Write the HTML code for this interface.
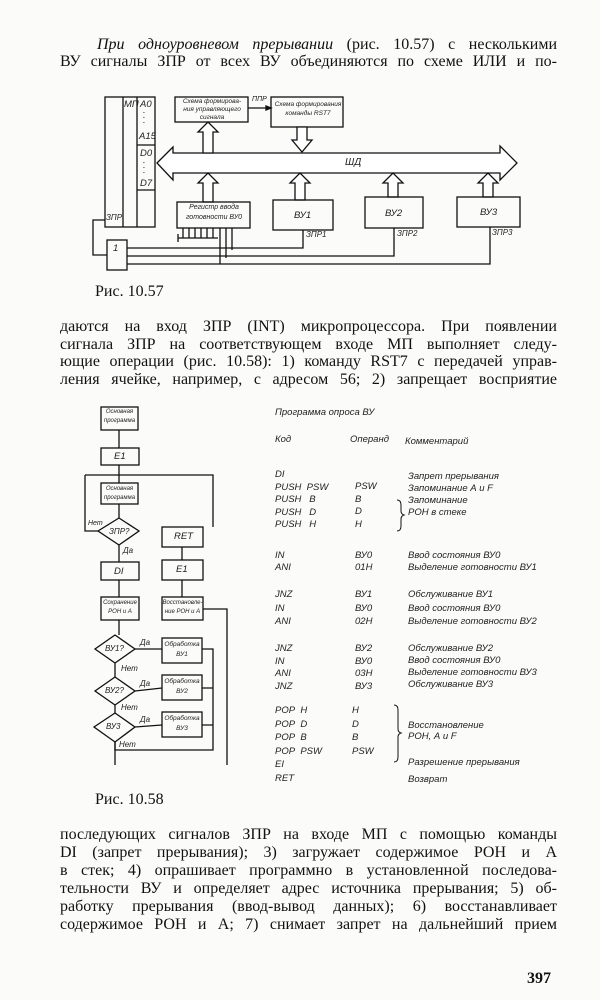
<!DOCTYPE html>
<html><head><meta charset="utf-8"><style>
body{margin:0;background:#fff;}
#p{position:relative;width:600px;height:1000px;overflow:hidden;background:#fbfbfa;font-family:"Liberation Serif",serif;color:#111;}
.l{position:absolute;left:60px;width:497px;font-size:16px;line-height:18px;text-align:justify;text-align-last:justify;white-space:nowrap;}
.t{position:absolute;font-family:"Liberation Sans",sans-serif;font-style:italic;font-size:9.5px;color:#222;white-space:nowrap;}
svg text{font-family:"Liberation Sans",sans-serif;font-style:italic;fill:#111;}
</style></head><body><div id="p">
<div class="l" style="top:36px;left:97px;width:460px"><i>При одноуровневом прерывании</i> (рис. 10.57) с несколькими</div>
<div class="l" style="top:53px">ВУ сигналы ЗПР от всех ВУ объединяются по схеме ИЛИ и по-</div>
<div class="l" style="top:283px;left:95px;width:auto;text-align:left;text-align-last:auto">Рис. 10.57</div>
<div class="l" style="top:318px">даются на вход ЗПР (INT) микропроцессора. При появлении</div>
<div class="l" style="top:336px">сигнала ЗПР на соответствующем входе МП выполняет следу-</div>
<div class="l" style="top:353px">ющие операции (рис. 10.58): 1) команду RST7 с передачей управ-</div>
<div class="l" style="top:371px">ления ячейке, например, с адресом 56; 2) запрещает восприятие</div>
<div class="l" style="top:791px;left:95px;width:auto;text-align:left;text-align-last:auto">Рис. 10.58</div>
<div class="l" style="top:826px">последующих сигналов ЗПР на входе МП с помощью команды</div>
<div class="l" style="top:844px">DI (запрет прерывания); 3) загружает содержимое РОН и А</div>
<div class="l" style="top:862px">в стек; 4) опрашивает программно в установленной последова-</div>
<div class="l" style="top:880px">тельности ВУ и определяет адрес источника прерывания; 5) об-</div>
<div class="l" style="top:898px">работку прерывания (ввод-вывод данных); 6) восстанавливает</div>
<div class="l" style="top:916px">содержимое РОН и А; 7) снимает запрет на дальнейший прием</div>
<div class="l" style="top:970px;left:527px;width:auto;font-weight:bold;text-align:left;text-align-last:auto">397</div>

<svg width="600" height="1000" style="position:absolute;left:0;top:0" fill="none" stroke="#111" stroke-width="1.3">
<rect x="105" y="97" width="50" height="130"/>
<line x1="123" y1="97" x2="123" y2="227"/><line x1="137" y1="97" x2="137" y2="227"/>
<line x1="137" y1="145" x2="155" y2="145"/><line x1="137" y1="190" x2="155" y2="190"/>
<rect x="175" y="97" width="73" height="25"/><rect x="271" y="97" width="72" height="30"/>
<line x1="248" y1="108" x2="271" y2="108"/><polygon points="271,108 266,106 266,110" fill="#111"/>
<polygon points="157,163 173,147 173,153 500,153 500,146 517,163 500,180 500,173 173,173 173,180" fill="#fff"/>
<polygon points="203,153 203,132 198,132 208,122 218,132 213,132 213,153" fill="#fff"/>
<polygon points="297,127 297,140 292,140 302,152 312,140 307,140 307,127" fill="#fff"/>
<g fill="#fff">
<polygon points="203,202 203,183 198,183 208,173 218,183 213,183 213,202"/>
<polygon points="295,200 295,183 290,183 300,173 310,183 305,183 305,200"/>
<polygon points="388,197 388,183 383,183 393,173 403,183 398,183 398,197"/>
<polygon points="483,197 483,183 478,183 488,173 498,183 493,183 493,197"/>
</g>
<rect x="177" y="202" width="73" height="26"/><rect x="273" y="200" width="60" height="30"/>
<rect x="365" y="197" width="58" height="31"/><rect x="457" y="197" width="63" height="30"/>
<rect x="107" y="240" width="20" height="30"/>
<path d="M107,255 H93 V220 H105"/>
<path d="M178,238 H218 M183,228 V238 M189,228 V238 M195,228 V238 M201,228 V238 M207,228 V238 M213,228 V238 M178,234 V242"/>
<path d="M220,228 V264 M226,228 V258 M232,228 V250"/>
<path d="M127,248 H303 V230"/><path d="M127,256 H394 V228"/><path d="M127,264 H490 V227"/>
<rect x="101" y="407" width="37" height="23"/><line x1="119" y1="430" x2="119" y2="448"/>
<rect x="101" y="448" width="38" height="17"/><line x1="119" y1="465" x2="119" y2="483"/>
<path d="M85,475 H213 V527"/><path d="M98,531 H85 V475"/>
<rect x="101" y="483" width="37" height="21"/><line x1="119" y1="504" x2="119" y2="518"/>
<polygon points="119,518 139,531 119,545 98,531"/><line x1="119" y1="545" x2="119" y2="562"/>
<rect x="101" y="562" width="38" height="18"/><line x1="119" y1="580" x2="119" y2="597"/>
<rect x="101" y="597" width="38" height="23"/><line x1="119" y1="620" x2="119" y2="635"/>
<polygon points="115,635 135,649 115,663 95,649"/><line x1="115" y1="663" x2="115" y2="677"/>
<polygon points="115,677 135,691 115,705 95,691"/><line x1="115" y1="705" x2="115" y2="713"/>
<polygon points="115,713 135,727 115,742 94,727"/><path d="M115,742 V750 H213 V649 H202 M213,688 H202 M213,725 H202"/>
<path d="M115,742 V765"/>
<line x1="135" y1="649" x2="162" y2="649"/><line x1="135" y1="691" x2="162" y2="688"/><line x1="135" y1="727" x2="162" y2="725"/>
<rect x="162" y="638" width="40" height="25"/><rect x="162" y="675" width="40" height="25"/><rect x="162" y="712" width="40" height="25"/>
<rect x="162" y="527" width="41" height="20"/><line x1="182" y1="547" x2="182" y2="560"/>
<rect x="162" y="560" width="41" height="20"/><line x1="182" y1="580" x2="182" y2="597"/>
<rect x="162" y="597" width="41" height="23"/>
<path d="M203,609 H227 V765"/>
<path d="M397,500 q4,0 4,5 v6 q0,3 3,4 q-3,1 -3,4 v7 q0,5 -4,5" stroke-width="1"/>
<path d="M394,705 q4,0 4,5 v19 q0,3 3,4 q-3,1 -3,4 v20 q0,5 -4,5" stroke-width="1"/>
</svg>
<div class="t" style="left:124px;top:99px">МП</div><div class="t" style="left:140px;top:99px">A0</div>
<div class="t" style="left:143px;top:108px;line-height:5px">.<br>.<br>.</div>
<div class="t" style="left:139px;top:131px">A15</div><div class="t" style="left:140px;top:148px">D0</div>
<div class="t" style="left:143px;top:158px;line-height:5px">.<br>.<br>.</div><div class="t" style="left:140px;top:178px">D7</div>
<div class="t" style="left:106px;top:213px;font-size:8px">ЗПР</div>
<div class="t" style="left:177px;top:98px;font-size:6.5px;line-height:8px;text-align:center;width:70px">Схема формирова-<br>ния управляющего<br>сигнала</div>
<div class="t" style="left:273px;top:100px;font-size:6.5px;line-height:9px;text-align:center;width:70px">Схема формирования<br>команды RST7</div>
<div class="t" style="left:252px;top:96px;font-size:7px">ППР</div>
<div class="t" style="left:345px;top:157px;font-size:10px">ШД</div>
<div class="t" style="left:178px;top:203px;font-size:7px;line-height:10px;text-align:center;width:72px">Регистр ввода<br>готовности ВУ0</div>
<div class="t" style="left:294px;top:210px">ВУ1</div><div class="t" style="left:385px;top:208px">ВУ2</div><div class="t" style="left:480px;top:207px">ВУ3</div>
<div class="t" style="left:306px;top:230px;font-size:8px">ЗПР1</div><div class="t" style="left:397px;top:229px;font-size:8px">ЗПР2</div><div class="t" style="left:492px;top:228px;font-size:8px">ЗПР3</div>
<div class="t" style="left:113px;top:243px">1</div>
<div class="t" style="left:101px;top:408px;font-size:6px;line-height:9px;text-align:center;width:37px">Основная<br>программа</div>
<div class="t" style="left:114px;top:451px">E1</div>
<div class="t" style="left:101px;top:485px;font-size:6px;line-height:9px;text-align:center;width:37px">Основная<br>программа</div>
<div class="t" style="left:109px;top:527px;font-size:8px">ЗПР?</div>
<div class="t" style="left:88px;top:520px;font-size:7px">Нет</div><div class="t" style="left:123px;top:546px;font-size:8px">Да</div>
<div class="t" style="left:114px;top:566px">DI</div>
<div class="t" style="left:101px;top:599px;font-size:6px;line-height:9px;text-align:center;width:38px">Сохранение<br>РОН и А</div>
<div class="t" style="left:105px;top:644px;font-size:8px">ВУ1?</div><div class="t" style="left:105px;top:686px;font-size:8px">ВУ2?</div><div class="t" style="left:106px;top:722px;font-size:8px">ВУ3</div>
<div class="t" style="left:140px;top:638px;font-size:8px">Да</div><div class="t" style="left:140px;top:679px;font-size:8px">Да</div><div class="t" style="left:140px;top:715px;font-size:8px">Да</div>
<div class="t" style="left:121px;top:664px;font-size:8px">Нет</div><div class="t" style="left:121px;top:703px;font-size:8px">Нет</div><div class="t" style="left:119px;top:740px;font-size:8px">Нет</div>
<div class="t" style="left:162px;top:640px;font-size:6.5px;line-height:10px;text-align:center;width:40px">Обработка<br>ВУ1</div>
<div class="t" style="left:162px;top:677px;font-size:6.5px;line-height:10px;text-align:center;width:40px">Обработка<br>ВУ2</div>
<div class="t" style="left:162px;top:714px;font-size:6.5px;line-height:10px;text-align:center;width:40px">Обработка<br>ВУ3</div>
<div class="t" style="left:174px;top:531px">RET</div><div class="t" style="left:176px;top:564px">E1</div>
<div class="t" style="left:162px;top:599px;font-size:6px;line-height:9px;text-align:center;width:41px">Восстановле-<br>ние РОН и А</div>
<div class="t" style="left:275px;top:407px">Программа опроса ВУ</div>
<div class="t" style="left:275px;top:434px">Код</div><div class="t" style="left:350px;top:434px">Операнд</div><div class="t" style="left:405px;top:436px">Комментарий</div>
<div class="t" style="left:275px;top:469px;line-height:12.5px">DI<br>PUSH&nbsp;&nbsp;PSW<br>PUSH&nbsp;&nbsp;&nbsp;B<br>PUSH&nbsp;&nbsp;&nbsp;D<br>PUSH&nbsp;&nbsp;&nbsp;H</div>
<div class="t" style="left:355px;top:481px;line-height:12.5px">PSW<br>B<br>D<br>H</div>
<div class="t" style="left:408px;top:471px;line-height:12px">Запрет прерывания<br>Запоминание А и F<br>Запоминание<br>РОН в стеке</div>
<div class="t" style="left:275px;top:550px;line-height:12px">IN<br>ANI</div><div class="t" style="left:355px;top:550px;line-height:12px">ВУ0<br>01H</div>
<div class="t" style="left:408px;top:550px;line-height:12px">Ввод состояния ВУ0<br>Выделение готовности ВУ1</div>
<div class="t" style="left:275px;top:588px;line-height:13.5px">JNZ<br>IN<br>ANI</div><div class="t" style="left:355px;top:588px;line-height:13.5px">ВУ1<br>ВУ0<br>02H</div>
<div class="t" style="left:408px;top:588px;line-height:13.5px">Обслуживание ВУ1<br>Ввод состояния ВУ0<br>Выделение готовности ВУ2</div>
<div class="t" style="left:275px;top:643px;line-height:12.5px">JNZ<br>IN<br>ANI<br>JNZ</div><div class="t" style="left:355px;top:643px;line-height:12.5px">ВУ2<br>ВУ0<br>03H<br>ВУ3</div>
<div class="t" style="left:408px;top:643px;line-height:12px">Обслуживание ВУ2<br>Ввод состояния ВУ0<br>Выделение готовности ВУ3<br>Обслуживание ВУ3</div>
<div class="t" style="left:275px;top:704px;line-height:13.5px">POP&nbsp;&nbsp;H<br>POP&nbsp;&nbsp;D<br>POP&nbsp;&nbsp;B<br>POP&nbsp;&nbsp;PSW<br>EI<br>RET</div>
<div class="t" style="left:352px;top:704px;line-height:13.5px">H<br>D<br>B<br>PSW</div>
<div class="t" style="left:408px;top:720px;line-height:11px">Восстановление<br>РОН, А и F</div>
<div class="t" style="left:408px;top:757px">Разрешение прерывания</div>
<div class="t" style="left:408px;top:774px">Возврат</div>
</div></body></html>
